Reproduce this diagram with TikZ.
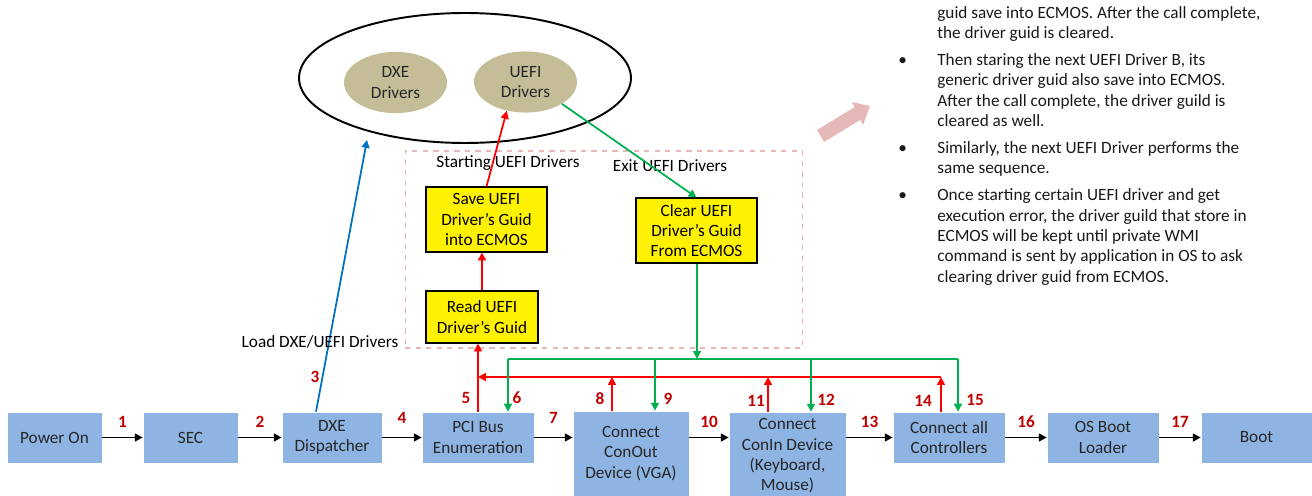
\documentclass[tikz,border=0pt]{standalone}
\usepackage{fontspec}
\setmainfont{Carlito}
\usepackage{xcolor}
\usetikzlibrary{shapes,arrows.meta,positioning}

\definecolor{stepblue}{HTML}{8EB4E3}
\definecolor{numred}{HTML}{C00000}
\definecolor{drvtan}{HTML}{C4BD97}
\definecolor{flowgreen}{HTML}{00B050}
\definecolor{flowblue}{HTML}{0070C0}
\definecolor{zonepink}{HTML}{E6B9B8}

\newcommand{\dfont}{\fontsize{9.8}{11.6}\selectfont}
\newcommand{\bul}{\llap{\makebox[0.78cm][l]{\textbullet}}}

\begin{document}
\begin{tikzpicture}[x=0.02cm, y=-0.02cm,
    every node/.style={font=\dfont},
    box/.style={rectangle, fill=stepblue, draw=white, minimum width=2.24cm, minimum height=1.02cm, align=center, text=black!85},
    ybox/.style={rectangle, fill=yellow, draw=black, line width=0.6pt, align=center, text=black},
    drv/.style={ellipse, fill=drvtan, minimum width=2.06cm, minimum height=1.02cm, align=center, text=black!85},
    pool/.style={ellipse, draw=black, line width=1.1pt, minimum width=6.64cm, minimum height=2.6cm},
    zone/.style={rectangle, draw=zonepink, dashed, line width=0.6pt},
    num/.style={font=\dfont\bfseries, text=numred},
    arrow/.style={-{Triangle[length=4.5pt,width=4.5pt]}, line width=1.1pt, black},
    redarrow/.style={-{Triangle[length=4.5pt,width=4.5pt]}, line width=1pt, red},
    greenarrow/.style={-{Triangle[length=4.5pt,width=4.5pt]}, line width=1pt, flowgreen},
    greenline/.style={line width=1pt, flowgreen},
    bluearrow/.style={-{Triangle[length=4.5pt,width=4.5pt]}, line width=1pt, flowblue}
]
    \useasboundingbox (0,0) rectangle (1312,496);

    % driver pool
    \node[pool] (drvpool) at (465,78) {};
    \node[drv] (dxedrv) at (395.5,82.5) {DXE\\Drivers};
    \node[drv] (uefidrv) at (525.5,82) {UEFI\\Drivers};

    % UEFI driver guid handling
    \node[zone, minimum width=7.96cm, minimum height=3.94cm] (uefizone) at (604,249.5) {};
    \node (startlbl) at (508,163) {Starting UEFI Drivers};
    \node (exitlbl) at (670,166) {Exit UEFI Drivers};
    \node[ybox, minimum width=2.42cm, minimum height=1.3cm] (save) at (486.5,219.5) {Save UEFI\\Driver’s Guid\\into ECMOS};
    \node[ybox, minimum width=2.24cm, minimum height=1.04cm] (read) at (482,317) {Read UEFI\\Driver’s Guid};
    \node[ybox, minimum width=2.42cm, minimum height=1.3cm] (clear) at (696.5,230.5) {Clear UEFI\\Driver’s Guid\\From ECMOS};

    \draw[redarrow] (read.north) -- (save.south -| read.north);
    \draw[redarrow] (save.north) -- (uefidrv.237);
    \draw[greenarrow] (uefidrv.-31) -- (clear.north);

    % boot flow
    \node[box, minimum width=1.9cm] (power) at (54.5,437.5) {Power On};
    \node[box, minimum width=1.9cm] (sec) at (190.5,437.5) {SEC};
    \node[box, minimum width=2cm] (dxe) at (332,437.5) {DXE\\Dispatcher};
    \node[box] (pci) at (478,437.5) {PCI Bus\\Enumeration};
    \node[box, minimum width=2.32cm, minimum height=1.7cm] (conout) at (631,453.5) {Connect\\ConOut\\Device (VGA)};
    \node[box, minimum width=2.34cm, minimum height=1.76cm] (conin) at (787.5,456) {Connect\\ConIn Device\\(Keyboard,\\Mouse)};
    \node[box] (conall) at (949,437.5) {Connect all\\Controllers};
    \node[box] (osload) at (1103,437.5) {OS Boot\\Loader};
    \node[box, minimum width=2.22cm] (boot) at (1256.5,437.5) {Boot};

    \draw[arrow] (power) -- node[num, above=2pt] (n1) {1} (sec);
    \draw[arrow] (sec) -- node[num, above=2pt] (n2) {2} (dxe);
    \draw[arrow] (dxe) -- node[num, above=4pt] (n4) {4} (pci);
    \draw[arrow] (pci.east) -- node[num, above=4pt] (n7) {7} (pci.east -| conout.west);
    \draw[arrow] (pci.east -| conout.east) -- node[num, above=2pt] (n10) {10} (pci.east -| conin.west);
    \draw[arrow] (pci.east -| conin.east) -- node[num, above=2pt] (n13) {13} (conall.west);
    \draw[arrow] (conall) -- node[num, above=2pt] (n16) {16} (osload);
    \draw[arrow] (osload) -- node[num, above=2pt] (n17) {17} (boot);

    % load drivers
    \coordinate (loadtip) at (367,140);
    \draw[bluearrow] ([xshift=-0.32cm]dxe.north) -- (loadtip);
    \node (loadlbl) at (320,342) {Load DXE/UEFI Drivers};
    \node[num] (n3) at (315,377) {3};

    % red bus back to the read box
    \coordinate (rbusW) at (478,377);
    \coordinate (rbusE) at (941,377);
    \coordinate (r8) at (612,377);
    \coordinate (r11) at (768,377);
    \draw[redarrow] (pci.north -| rbusW) -- (read.south -| rbusW);
    \draw[redarrow] (rbusE) -- (rbusW);
    \draw[redarrow] (conout.north -| r8) -- (r8);
    \draw[redarrow] (conin.north -| r11) -- (r11);
    \draw[redarrow] (conall.north -| rbusE) -- (rbusE);

    % green bus from the clear box
    \coordinate (gbus) at (697,359);
    \coordinate (gbusW) at (508,359);
    \coordinate (gbusE) at (958,359);
    \coordinate (g9) at (655,359);
    \coordinate (g12) at (811,359);
    \draw[greenarrow] (clear.south -| gbus) -- (gbus);
    \draw[greenline] (gbusW) -- (gbusE);
    \draw[greenarrow] (gbusW) -- (gbusW |- pci.north);
    \draw[greenarrow] (g9) -- (g9 |- conout.north);
    \draw[greenarrow] (g12) -- (g12 |- conin.north);
    \draw[greenarrow] (gbusE) -- (gbusE |- conall.north);

    \node[num] (n5) at (466,398) {5};
    \node[num] (n6) at (517,398) {6};
    \node[num] (n8) at (600,399) {8};
    \node[num] (n9) at (668,399) {9};
    \node[num] (n11) at (756,401) {11};
    \node[num] (n12) at (826,400) {12};
    \node[num] (n14) at (923,401) {14};
    \node[num] (n15) at (975,400) {15};

    % notes on the right
    \fill[zonepink] (817,130) -- (854.5,107.2) -- (852,102) -- (870,106) -- (863,125) -- (860.5,119.8) -- (824,142) -- cycle;
    \node[anchor=north west, align=left, inner sep=0pt, text=black!90] (notes) at (937,6) {guid save into ECMOS. After the call complete,\\
        the driver guid is cleared.\\[3.7pt]
        \bul Then staring the next UEFI Driver B, its\\
        generic driver guid also save into ECMOS.\\
        After the call complete, the driver guild is\\
        cleared as well.\\[3.7pt]
        \bul Similarly, the next UEFI Driver performs the\\
        same sequence.\\[3.7pt]
        \bul Once starting certain UEFI driver and get\\
        execution error, the driver guild that store in\\
        ECMOS will be kept until private WMI\\
        command is sent by application in OS to ask\\
        clearing driver guid from ECMOS.};
\end{tikzpicture}
\end{document}
